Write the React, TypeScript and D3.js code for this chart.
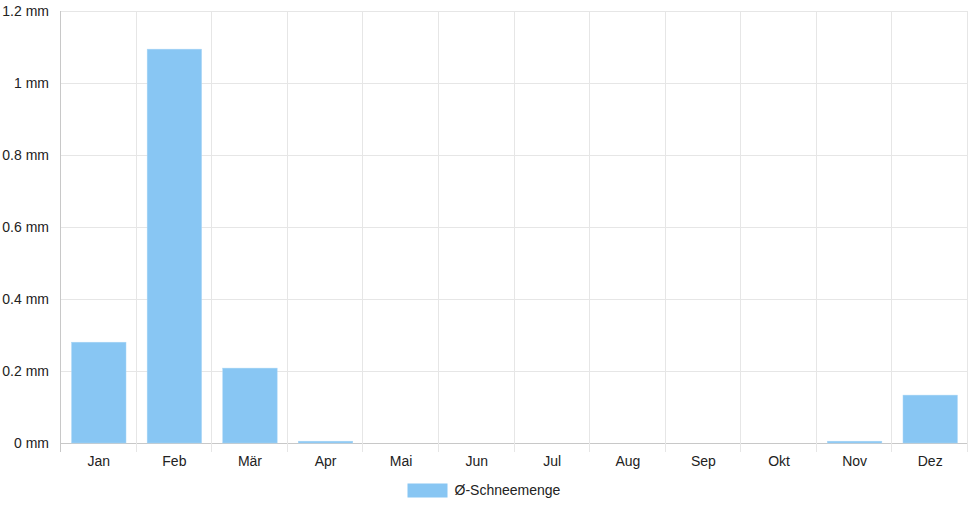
import * as d3 from 'd3';
import { useEffect, useRef } from 'react';

const months = ['Jan', 'Feb', 'Mär', 'Apr', 'Mai', 'Jun', 'Jul', 'Aug', 'Sep', 'Okt', 'Nov', 'Dez'];
const snow = [0.28, 1.094, 0.208, 0.005, 0, 0, 0, 0, 0, 0, 0.005, 0.133];
const yTicks = [0, 0.2, 0.4, 0.6, 0.8, 1, 1.2];
const seriesName = 'Ø-Schneemenge';

const W = 968;
const H = 508;

export default function App() {
  const ref = useRef<SVGSVGElement>(null);

  useEffect(() => {
    const margin = { top: 11, right: 0, bottom: 65, left: 61 };
    const width = W - margin.left - margin.right;
    const height = H - margin.top - margin.bottom;
    const font = '"Liberation Sans", Arial, sans-serif';

    const svg = d3.select(ref.current);
    svg.selectAll('*').remove();

    const g = svg.append('g').attr('transform', `translate(${margin.left},${margin.top})`);

    const x = d3.scaleBand<string>().domain(months).range([0, width]).paddingInner(0).paddingOuter(0);
    const y = d3.scaleLinear().domain([0, 1.2]).range([height, 0]);

    // horizontal grid
    g.append('g')
      .selectAll('line')
      .data(yTicks)
      .join('line')
      .attr('x1', 0)
      .attr('x2', width)
      .attr('y1', (d) => Math.round(y(d)) + 0.5)
      .attr('y2', (d) => Math.round(y(d)) + 0.5)
      .attr('stroke', (d) => (d === 0 ? '#c8c8c8' : '#e6e6e6'));

    // vertical grid, with tick marks below the axis
    const xLines = months.map((m) => x(m) ?? 0).concat([width]);
    g.append('g')
      .selectAll('line')
      .data(xLines)
      .join('line')
      .attr('x1', (d) => Math.round(d) - 0.5)
      .attr('x2', (d) => Math.round(d) - 0.5)
      .attr('y1', 0)
      .attr('y2', height + 9)
      .attr('stroke', (d, i) => (i === 0 ? '#c8c8c8' : '#e6e6e6'));

    // y labels
    g.append('g')
      .selectAll('text')
      .data(yTicks)
      .join('text')
      .attr('x', -12)
      .attr('y', (d) => y(d))
      .attr('dy', '0.35em')
      .attr('text-anchor', 'end')
      .style('font-family', font)
      .style('font-size', '14px')
      .attr('fill', '#222')
      .text((d) => `${d} mm`);

    // x labels
    g.append('g')
      .selectAll('text')
      .data(months)
      .join('text')
      .attr('x', (d) => (x(d) ?? 0) + x.bandwidth() / 2)
      .attr('y', height + 18)
      .attr('dy', '0.35em')
      .attr('text-anchor', 'middle')
      .style('font-family', font)
      .style('font-size', '14px')
      .attr('fill', '#222')
      .text((d) => d);

    // bars
    const barW = x.bandwidth() * 0.72;
    g.append('g')
      .selectAll('rect')
      .data(months.map((m, i) => ({ m, v: snow[i] })))
      .join('rect')
      .attr('x', (d) => (x(d.m) ?? 0) + (x.bandwidth() - barW) / 2)
      .attr('y', (d) => y(d.v))
      .attr('width', barW)
      .attr('height', (d) => y(0) - y(d.v))
      .attr('fill', '#88c6f3')
      .attr('stroke', '#a9d5f5')
      .attr('stroke-width', 0.5);

    // legend
    const legend = svg.append('g').attr('transform', `translate(407.5,483.5)`);
    legend.append('rect').attr('width', 40).attr('height', 14).attr('fill', '#88c6f3');
    legend
      .append('text')
      .attr('x', 47)
      .attr('y', 7)
      .attr('dy', '0.35em')
      .style('font-family', font)
      .style('font-size', '14px')
      .attr('fill', '#222')
      .text(seriesName);
  }, []);

  return (
    <svg
      ref={ref}
      width={W}
      height={H}
      style={{ position: 'absolute', left: 0, top: 0, background: '#fff' }}
    />
  );
}
